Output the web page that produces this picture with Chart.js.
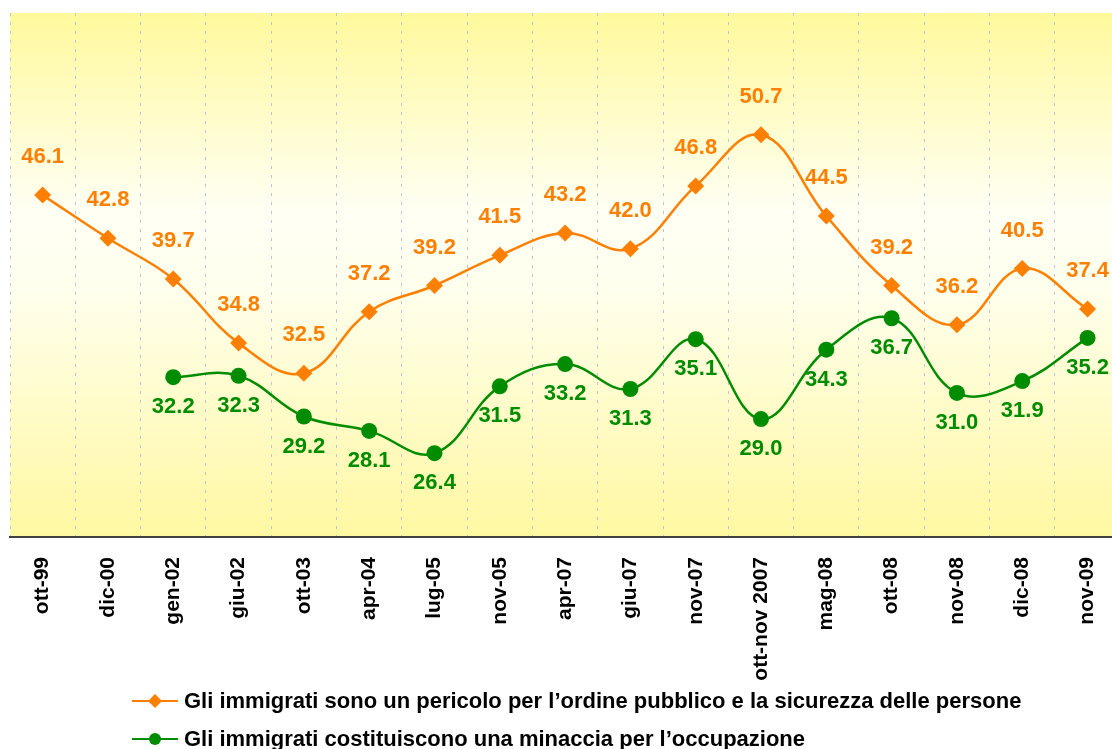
<!DOCTYPE html>
<html>
<head>
<meta charset="utf-8">
<script src="https://cdn.jsdelivr.net/npm/chart.js@4"></script>
<style>
  html, body { margin: 0; padding: 0; background: #fff; overflow: hidden; }
  canvas { display: block; }
</style>
</head>
<body>
<canvas id="c" width="1133" height="749"></canvas>
<script>
// ── Data ──
const labels = ['ott-99', 'dic-00', 'gen-02', 'giu-02', 'ott-03', 'apr-04', 'lug-05', 'nov-05', 'apr-07',
    'giu-07', 'nov-07', 'ott-nov 2007', 'mag-08', 'ott-08', 'nov-08', 'dic-08', 'nov-09'];
const pericolo = [46.1, 42.8, 39.7, 34.8, 32.5, 37.2, 39.2, 41.5, 43.2, 42.0, 46.8, 50.7, 44.5, 39.2, 36.2, 40.5, 37.4];
const minaccia = [null, null, 32.2, 32.3, 29.2, 28.1, 26.4, 31.5, 33.2, 31.3, 35.1, 29.0, 34.3, 36.7, 31.0, 31.9, 35.2];
const seriesNames = [
    'Gli immigrati sono un pericolo per l\u2019ordine pubblico e la sicurezza delle persone',
    'Gli immigrati costituiscono una minaccia per l\u2019occupazione'
];

const ORANGE = '#FF7F00';
const GREEN = '#008C00';
const FONT = 'Arial, "Liberation Sans", sans-serif';

// plot background: yellow -> white -> yellow
const bgPlugin = {
    id: 'bg',
    beforeDraw(chart) {
        const { ctx, chartArea: a } = chart;
        const g = ctx.createLinearGradient(0, a.top, 0, a.bottom);
        g.addColorStop(0, '#FFF99C');
        g.addColorStop(0.38, '#FFFFF4');
        g.addColorStop(0.52, '#FFFFEE');
        g.addColorStop(1, '#FFF8A2');
        ctx.save();
        ctx.fillStyle = g;
        ctx.fillRect(a.left, a.top, a.right - a.left, a.bottom - a.top);
        ctx.restore();
    }
};

// value labels: orange above, green below
const valuePlugin = {
    id: 'values',
    afterDatasetsDraw(chart) {
        const ctx = chart.ctx;
        ctx.save();
        ctx.font = 'bold 22px ' + FONT;
        ctx.textAlign = 'center';
        ctx.textBaseline = 'middle';
        chart.data.datasets.forEach((ds, di) => {
            const meta = chart.getDatasetMeta(di);
            const dy = di === 0 ? -38 : 30;
            ctx.fillStyle = ds.borderColor;
            meta.data.forEach((pt, i) => {
                const v = ds.data[i];
                if (v === null) return;
                ctx.fillText(v.toFixed(1), pt.x, pt.y + dy);
            });
        });
        ctx.restore();
    }
};

// legend under the axis labels
const legendPlugin = {
    id: 'customLegend',
    afterDraw(chart) {
        const ctx = chart.ctx;
        const rows = [701, 739];
        ctx.save();
        chart.data.datasets.forEach((ds, di) => {
            const y = rows[di];
            ctx.strokeStyle = ds.borderColor;
            ctx.fillStyle = ds.borderColor;
            ctx.lineWidth = 2;
            ctx.beginPath(); ctx.moveTo(132, y); ctx.lineTo(178, y); ctx.stroke();
            ctx.beginPath();
            if (ds.pointStyle === 'rectRot') {
                ctx.moveTo(155, y - 7); ctx.lineTo(162, y); ctx.lineTo(155, y + 7); ctx.lineTo(148, y);
                ctx.closePath();
            } else {
                ctx.arc(155, y, 6, 0, Math.PI * 2);
            }
            ctx.fill();
            ctx.fillStyle = '#000';
            ctx.font = 'bold 22px ' + FONT;
            ctx.textAlign = 'left';
            ctx.textBaseline = 'middle';
            ctx.fillText(ds.label, 184, y + 1);
        });
        ctx.restore();
    }
};

new Chart(document.getElementById('c'), {
    type: 'line',
    data: {
        labels: labels,
        datasets: [
            { label: seriesNames[0], data: pericolo, borderColor: ORANGE, backgroundColor: ORANGE, borderWidth: 2.5,
              pointStyle: 'rectRot', pointRadius: 8.5, pointHoverRadius: 8.5, pointBorderWidth: 0, tension: 0.4 },
            { label: seriesNames[1], data: minaccia, borderColor: GREEN, backgroundColor: GREEN, borderWidth: 2.5,
              pointStyle: 'circle', pointRadius: 8, pointHoverRadius: 8, pointBorderWidth: 0, tension: 0.4 }
        ]
    },
    options: {
        responsive: false,
        animation: false,
        events: [],
        layout: { padding: { left: 10, top: 13, right: 0, bottom: 0 } },
        plugins: { legend: { display: false }, tooltip: { enabled: false } },
        scales: {
            x: {
                offset: true,
                grid: { offset: true, color: '#C4C4CC', lineWidth: 1, drawTicks: false },
                border: { display: true, color: '#404040', width: 2, dash: [3, 6] },
                ticks: { color: '#000', font: { family: FONT, size: 21, weight: 'bold' },
                    minRotation: 90, maxRotation: 90, padding: 20, autoSkip: false },
                afterFit(s) { s.height = 212; }
            },
            y: { display: false, min: 20, max: 60 }
        }
    },
    plugins: [bgPlugin, valuePlugin, legendPlugin]
});
</script>
</body>
</html>
